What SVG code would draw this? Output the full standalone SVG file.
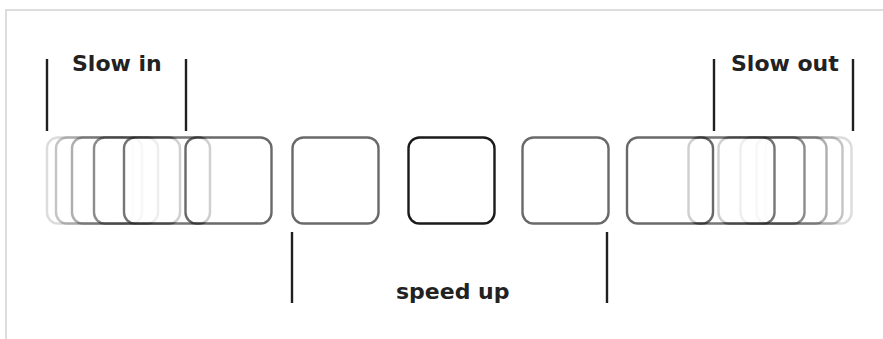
<svg xmlns="http://www.w3.org/2000/svg" width="883" height="339" viewBox="0 0 883 339">
  <defs>
    <style>
      .frame { fill: none; stroke: #d2d2d2; stroke-width: 1.5; }
      .box { fill: #ffffff; stroke: #1a1a1a; stroke-width: 2.4; }
      .bar { stroke: #1f1f1f; stroke-width: 2.4; fill: none; }
      .label { font-family: "DejaVu Sans", "Liberation Sans", sans-serif; font-weight: bold; font-size: 22px; fill: #222222; }
    </style>
    <!-- one animation frame: a rounded square -->
    <rect id="frameBox" class="box" x="0" y="0" width="86" height="86" rx="11" ry="11"/>
    <!-- easing frames bunching up towards the outer end -->
    <g id="easeFrames">
      <use href="#frameBox" x="47" y="137.5" opacity="0.15"/>
      <use href="#frameBox" x="56" y="137.5" opacity="0.25"/>
      <use href="#frameBox" x="72" y="137.5" opacity="0.35"/>
      <use href="#frameBox" x="94" y="137.5" opacity="0.5"/>
      <use href="#frameBox" x="124" y="137.5" opacity="0.6"/>
      <use href="#frameBox" x="185.5" y="137.5" opacity="0.65"/>
    </g>
  </defs>

  <!-- page edge -->
  <path class="frame" d="M6 339 V10 H883"/>

  <!-- slow in: frames close together -->
  <g id="slow-in-frames">
    <use href="#easeFrames"/>
  </g>

  <!-- speed up: frames spaced out -->
  <g id="speed-frame-1">
    <use href="#frameBox" x="292.5" y="137.5" opacity="0.65"/>
  </g>
  <g id="speed-frame-2">
    <rect class="box" x="408.5" y="137.5" width="86" height="86" rx="11" ry="11" stroke-width="2.7"/>
  </g>
  <g id="speed-frame-3">
    <use href="#frameBox" x="522.5" y="137.5" opacity="0.65"/>
  </g>

  <!-- slow out: mirrored easing frames -->
  <g id="slow-out-frames" transform="translate(898.5 0) scale(-1 1)">
    <use href="#easeFrames"/>
  </g>

  <!-- bracket markers -->
  <g id="brackets">
    <line class="bar" x1="47" y1="59" x2="47" y2="131"/>
    <line class="bar" x1="186" y1="59" x2="186" y2="131"/>
    <line class="bar" x1="714" y1="59" x2="714" y2="131"/>
    <line class="bar" x1="853" y1="59" x2="853" y2="131"/>
    <line class="bar" x1="292" y1="232" x2="292" y2="303"/>
    <line class="bar" x1="607" y1="232" x2="607" y2="303"/>
  </g>

  <!-- labels -->
  <g id="label-slow-in">
    <text class="label" x="72" y="71">Slow in</text>
  </g>
  <g id="label-slow-out">
    <text class="label" x="731" y="71">Slow out</text>
  </g>
  <g id="label-speed-up">
    <text class="label" x="396" y="299">speed up</text>
  </g>
</svg>
